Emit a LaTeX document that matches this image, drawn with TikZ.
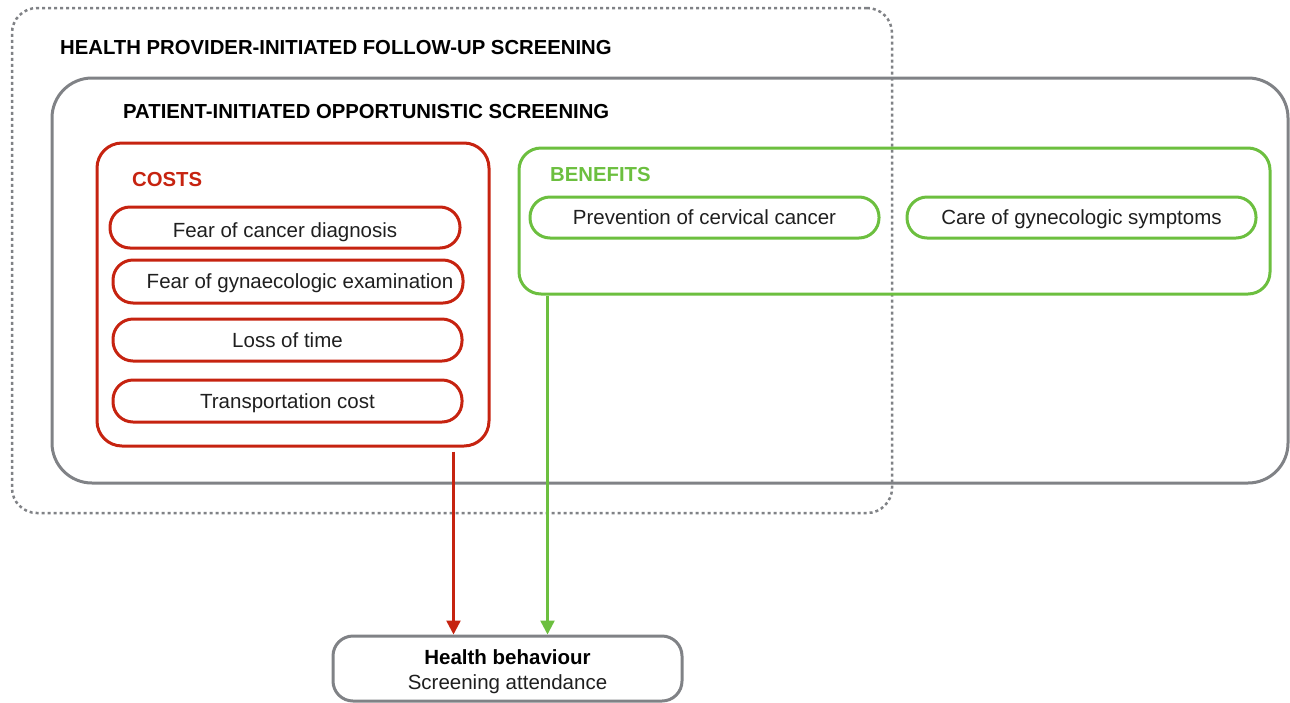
\documentclass[tikz,border=0pt]{standalone}
\usepackage{fontspec}
\setmainfont{Liberation Sans}
\usetikzlibrary{arrows.meta}
\definecolor{cred}{HTML}{C62310}
\definecolor{cgreen}{HTML}{6CBF3F}
\definecolor{cgray}{HTML}{808286}
\begin{document}
\begin{tikzpicture}[x=1pt,y=-1pt,
  box/.style={draw, line width=3pt, inner sep=0pt},
  pill/.style={draw, line width=3pt, rounded corners=20pt, inner sep=0pt,
    text height=14.7pt, text depth=0pt,
    font=\fontsize{20.5}{24}\selectfont, text=black!88},
  head/.style={anchor=west, inner sep=0pt, font=\bfseries\fontsize{20.3}{24}\selectfont},
  conn/.style={line width=2.5pt, -{Triangle[width=14pt,length=14pt]}}]
\useasboundingbox (0,0) rectangle (1290,702);
% outer dotted box
\node[box, draw=cgray, line width=2.5pt, dash pattern=on 3pt off 3pt, rounded corners=25pt,
  minimum width=880pt, minimum height=505pt] (prov) at (452,260.5) {};
% patient box
\node[box, draw=cgray, rounded corners=40pt, minimum width=1236pt, minimum height=405pt] (pat) at (670,280.5) {};
\node[head] (h1) at (60,48) {HEALTH PROVIDER-INITIATED FOLLOW-UP SCREENING};
\node[head] (h2) at (123,112) {PATIENT-INITIATED OPPORTUNISTIC SCREENING};
% costs
\node[box, draw=cred, rounded corners=25pt, minimum width=392pt, minimum height=303pt] (costs) at (293,294.5) {};
\node[head, text=cred] (costlbl) at (132,180) {COSTS};
\node[pill, draw=cred, minimum width=350pt, minimum height=41pt] (c1) at (285,227.5) {\raisebox{-3pt}{Fear of cancer diagnosis}\hspace{24pt}};
\node[pill, draw=cred, minimum width=350pt, minimum height=43pt] (c2) at (288,281.5) {\hspace{24pt}Fear of gynaecologic examination};
\node[pill, draw=cred, minimum width=349pt, minimum height=42pt] (c3) at (287.5,340) {Loss of time};
\node[pill, draw=cred, minimum width=349pt, minimum height=42pt] (c4) at (287.5,401) {Transportation cost};
% benefits
\node[box, draw=cgreen, rounded corners=22pt, minimum width=751pt, minimum height=146pt] (ben) at (894.5,221) {};
\node[head, text=cgreen] (benlbl) at (550,175) {BENEFITS};
\node[pill, draw=cgreen, minimum width=349pt, minimum height=41pt] (b1) at (704.5,217.5) {Prevention of cervical cancer};
\node[pill, draw=cgreen, minimum width=349pt, minimum height=41pt] (b2) at (1081.5,217.5) {Care of gynecologic symptoms\hspace{26pt}};
% health behaviour
\node[box, draw=cgray, rounded corners=20pt, minimum width=349pt, minimum height=65pt, align=center,
  text height=42.7pt, text depth=0pt,
  font=\fontsize{20.5}{25}\selectfont] (hb) at (507.5,668.5) {\textbf{Health behaviour}\\{\color{black!88}Screening attendance}};
% connectors
\draw[conn, cred] ([xshift=-37pt,yshift=-4pt]costs.south east) -- ([xshift=-37pt]costs.south east |- hb.north);
\draw[conn, cgreen] ([xshift=30pt]ben.south west) -- ([xshift=30pt]ben.south west |- hb.north);
\end{tikzpicture}
\end{document}
